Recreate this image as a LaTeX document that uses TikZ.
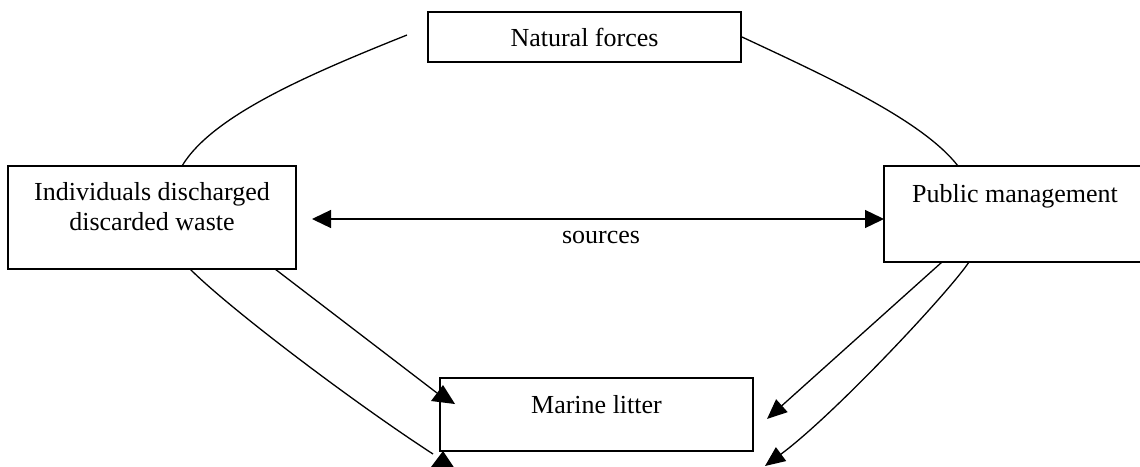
\documentclass[tikz,border=0pt]{standalone}
\usepackage{fontspec}
\setmainfont{Liberation Serif}
\usetikzlibrary{arrows.meta}
\begin{document}
\begin{tikzpicture}[x=1pt,y=-1pt,line width=1.3pt,
  box/.style={draw,rectangle,inner sep=0pt,align=center,font=\fontsize{26}{30}\selectfont},
  tipped/.style={-{Triangle[length=20pt,width=17pt]}},
  twotip/.style={{Triangle[length=19pt,width=18pt]}-{Triangle[length=19pt,width=18pt]}},
  lbl/.style={inner sep=0pt,font=\fontsize{26}{30}\selectfont}]
\useasboundingbox (0,0) rectangle (1140,466);

% boxes
\node[box,minimum width=313pt,text height=34pt,text depth=16pt] (nat) at (584.5,37) {Natural forces};
\node[box,minimum width=288pt,text height=64pt,text depth=39pt] (ind) at (152,217.5) {Individuals discharged\\discarded waste};
\node[box,minimum width=262pt,text height=36pt,text depth=60pt] (pub) at (1015,214) {Public management};
\node[box,minimum width=313pt,text height=35pt,text depth=38pt] (mar) at (596.5,414.5) {Marine litter};

% connector end points
\coordinate (natL) at (407,35);
\coordinate (natR) at (742,37);
\coordinate (indT) at (182,166);
\coordinate (pubT) at (958,166);
\coordinate (sL) at (312,219);
\coordinate (sR) at (884,219);
\coordinate (indB1) at (190,269);
\coordinate (indB2) at (275,269);
\coordinate (marL1) at (437,393);
\coordinate (marL2) at (433,454);
\coordinate (pubB1) at (942,262);
\coordinate (pubB2) at (969,262);
\coordinate (marR1) at (767,419);
\coordinate (marR2) at (765,466);

% curves between top box and side boxes
\draw (natL) .. controls (307,75) and (212,116) .. (indT);
\draw (natR) .. controls (832,79) and (923,121) .. (pubT);

% sources arrow
\draw[twotip] (sL) -- (sR);
\node[lbl,anchor=base] (src) at (601,243) {sources};

% individuals to marine litter
\draw (indB1) .. controls (230,309) and (353,402) .. (marL2);
\draw (indB2) -- (marL1);
\fill (443,385) -- (431,401) -- (455,404) -- cycle;
\fill (443,451) -- (431,467) -- (455,469) -- cycle;

% public management to marine litter
\draw[tipped] (pubB1) -- (marR1);
\draw[tipped] (pubB2) .. controls (949,292) and (835,414) .. (marR2);
\end{tikzpicture}
\end{document}
